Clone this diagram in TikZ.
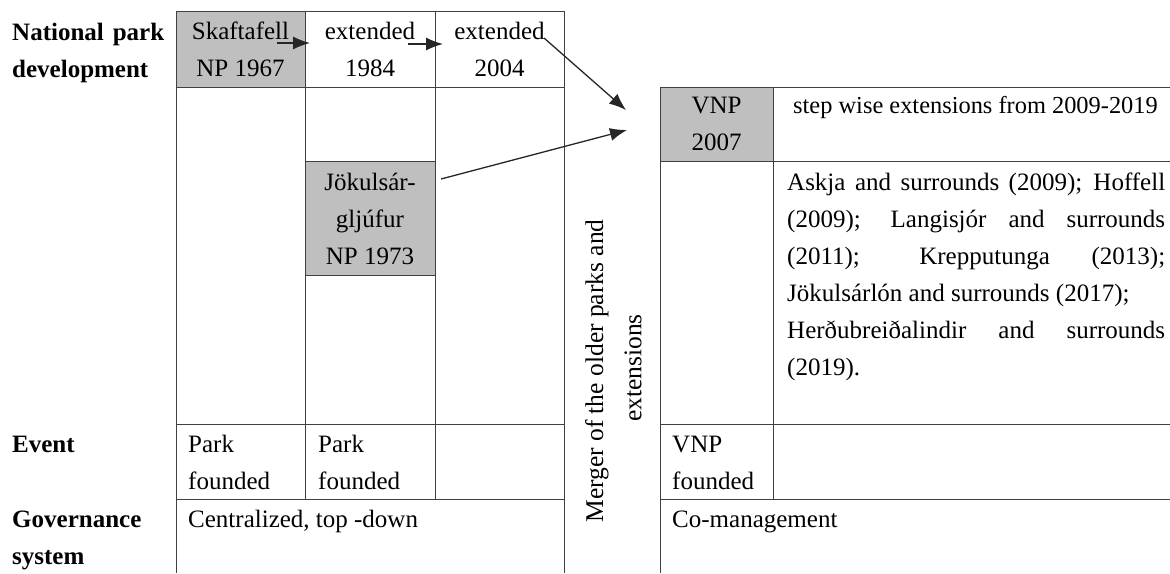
\documentclass[tikz,border=0pt]{standalone}
\usepackage{fontspec}
\setmainfont{Liberation Serif}
\usetikzlibrary{arrows.meta}
\begin{document}
\begin{tikzpicture}[x=1pt,y=-1pt,
  grid/.style={draw=black!75, line width=0.9pt},
  shadecell/.style={fill=black!25, draw=none},
  lft/.style={inner sep=0pt, anchor=base west, font=\fontsize{25}{37}\selectfont},
  ctr/.style={inner sep=0pt, anchor=base, font=\fontsize{25}{37}\selectfont},
  lbl/.style={inner sep=0pt, anchor=base west, font=\fontsize{25}{37}\selectfont\bfseries},
  vert/.style={inner sep=0pt, anchor=center, rotate=90, font=\fontsize{25.5}{37}\selectfont},
  arr/.style={draw=black!85, line width=1.3pt, -{Latex[length=17pt,width=13pt]}}]
\useasboundingbox (0,0) rectangle (1170,573);
% shaded cells
\fill[shadecell] (176,11) rectangle (305,87);
\fill[shadecell] (305,161) rectangle (435,275);
\fill[shadecell] (660,87) rectangle (773,161);
% left table
\draw[grid] (176,11) -- (564,11);
\draw[grid] (176,11) -- (176,573);
\draw[grid] (305,11) -- (305,499);
\draw[grid] (435,11) -- (435,499);
\draw[grid] (564,11) -- (564,573);
\draw[grid] (176,87) -- (564,87);
\draw[grid] (305,161) -- (435,161);
\draw[grid] (305,275) -- (435,275);
\draw[grid] (176,424) -- (564,424);
\draw[grid] (176,499) -- (564,499);
% right table
\draw[grid] (660,87) -- (1170,87);
\draw[grid] (660,161) -- (1170,161);
\draw[grid] (660,424) -- (1170,424);
\draw[grid] (660,499) -- (1170,499);
\draw[grid] (660,87) -- (660,573);
\draw[grid] (773,87) -- (773,499);
% row labels
\node[lbl] (np1) at (12,40) {\makebox[152pt][s]{National park}};
\node[lbl] (np2) at (12,77) {development};
\node[lbl] (ev) at (12,452) {Event};
\node[lbl] (gov1) at (12,527) {Governance};
\node[lbl] (gov2) at (12,564) {system};
% first row
\node[ctr] (sk1) at (240.5,39) {Skaftafell};
\node[ctr] (sk2) at (240.5,76) {NP 1967};
\node[ctr] (ex1) at (370,39) {extended};
\node[ctr] (ex1y) at (370,76) {1984};
\node[ctr] (ex2) at (499.5,39) {extended};
\node[ctr] (ex2y) at (499.5,76) {2004};
% Jokulsargljufur
\node[ctr] (j1) at (370,190) {Jökulsár-};
\node[ctr] (j2) at (370,227) {gljúfur};
\node[ctr] (j3) at (370,264) {NP 1973};
% VNP
\node[ctr] (v1) at (716.5,113) {VNP};
\node[ctr] (v2) at (716.5,150) {2007};
\node[lft, font=\fontsize{24.4}{37}\selectfont] (sw) at (793,113) {step wise extensions from 2009-2019};
% paragraph
\node[lft] (p1) at (787,190) {\makebox[378pt][s]{Askja and surrounds (2009); Hoffell}};
\node[lft] (p2) at (787,227) {\makebox[378pt][s]{(2009); Langisjór and surrounds}};
\node[lft] (p3) at (787,264) {\makebox[378pt][s]{(2011); Krepputunga (2013);}};
\node[lft] (p4) at (787,301) {Jökulsárlón and surrounds (2017);};
\node[lft] (p5) at (787,338) {\makebox[378pt][s]{Herðubreiðalindir and surrounds}};
\node[lft] (p6) at (787,375) {(2019).};
% events
\node[lft] (e1a) at (188,452) {Park};
\node[lft] (e1b) at (188,489) {founded};
\node[lft] (e2a) at (318,452) {Park};
\node[lft] (e2b) at (318,489) {founded};
\node[lft] (e3a) at (672,452) {VNP};
\node[lft] (e3b) at (672,489) {founded};
% governance
\node[lft] (g1) at (188,527) {Centralized, top -down};
\node[lft] (g2) at (672,527) {Co-management};
% merger
\node[vert] (m1) at (597,371) {Merger of the older parks and};
\node[vert] (m2) at (633,368) {extensions};
% arrows
\coordinate (a1s) at (277,43);
\coordinate (a1e) at (310,43);
\coordinate (a2s) at (408,44);
\coordinate (a2e) at (443,44);
\coordinate (a3s) at (544,38);
\coordinate (a3e) at (626,110);
\coordinate (a4s) at (441,179);
\coordinate (a4e) at (627,130);
\draw[arr] (a1s) -- (a1e);
\draw[arr] (a2s) -- (a2e);
\draw[arr] (a3s) -- (a3e);
\draw[arr] (a4s) -- (a4e);
\end{tikzpicture}
\end{document}
